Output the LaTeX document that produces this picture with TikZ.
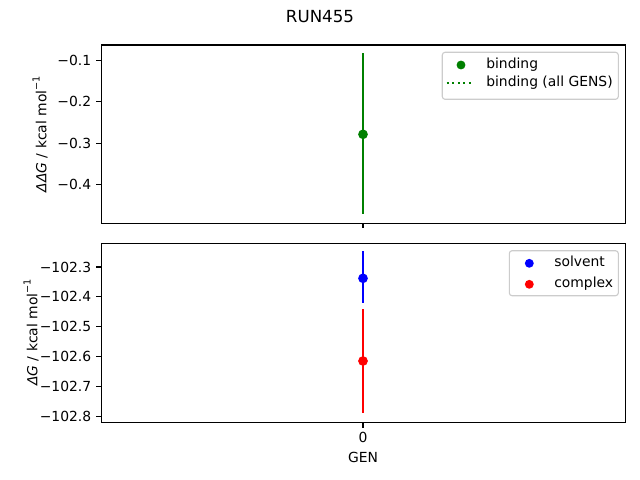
\documentclass[tikz,border=0pt]{standalone}
\usepackage{fontspec}
\setmainfont{DejaVu Sans}
\definecolor{mplgreen}{HTML}{008000}
\definecolor{mplblue}{HTML}{0000FF}
\definecolor{mplred}{HTML}{FF0000}
\definecolor{legedge}{HTML}{CCCCCC}
\newcommand{\supm}[1]{\raisebox{0.9ex}{\fontsize{7}{7}\selectfont #1}}
\tikzset{
  axbox/.style={draw=black, line width=0.8pt},
  tickmark/.style={draw=black, line width=0.8pt},
  ticklab/.style={anchor=east, inner sep=0pt, font=\fontsize{10}{12}\selectfont},
  xticklab/.style={anchor=north, inner sep=0pt, font=\fontsize{10}{12}\selectfont},
  axlabel/.style={inner sep=0pt, font=\fontsize{10}{12}\selectfont},
  errbar/.style={line width=1.5pt},
  marker/.style={circle, inner sep=0pt, minimum size=7pt},
  legmarker/.style={circle, inner sep=0pt, minimum size=6.4pt},
  legbox/.style={draw=legedge, fill=white, rounded corners=2pt, line width=0.8pt},
  legtext/.style={anchor=west, inner sep=0pt, text height=7.3pt, text depth=2.3pt, font=\fontsize{10}{12}\selectfont},
}
\begin{document}
\begin{tikzpicture}[x=0.72pt, y=-0.72pt]
\path[use as bounding box, fill=white] (0,0) rectangle (640,480);

% title
\node[axlabel, font=\fontsize{12}{14}\selectfont] (title) at (320,16.7) {RUN455};

% ---------- top panel ----------
\coordinate (tbar1) at (363,53.3);
\coordinate (tbar2) at (363,214.3);
\draw[errbar, mplgreen] (tbar1) -- (tbar2);
\node[marker, fill=mplgreen] (bind) at (363,134.3) {};

\draw[axbox] (101.3,45) rectangle (625.7,223.3);
\foreach \y/\l in {60.7/−0.1, 101.9/−0.2, 143.1/−0.3, 184.3/−0.4}{
  \draw[tickmark] (96.4,\y) -- (101.3,\y);
  \node[ticklab] at (91.5,\y) {\l};
}
\draw[tickmark] (363,223.3) -- (363,228.2);
\node[axlabel, rotate=90, anchor=base] (ylab1) at (46.5,134.2) {\textit{ΔΔG} / kcal mol\supm{−1}};

% top legend
\draw[legbox] (442.3,52.3) rectangle (618.3,99.3);
\node[legmarker, fill=mplgreen] (lgbind) at (461,65) {};
\node[legtext] (ltbind) at (486,65) {binding};
\coordinate (ld1) at (446.7,83.3);
\coordinate (ld2) at (471.7,83.3);
\draw[mplgreen, line width=1.5pt, dash pattern=on 1.5pt off 2.5pt] (ld1) -- (ld2);
\node[legtext] (ltall) at (486,83.3) {binding (all GENS)};

% ---------- bottom panel ----------
\coordinate (bbar1) at (363,251);
\coordinate (bbar2) at (363,303.3);
\draw[errbar, mplblue] (bbar1) -- (bbar2);
\node[marker, fill=mplblue] (solv) at (363,278.3) {};
\coordinate (rbar1) at (363,309.3);
\coordinate (rbar2) at (363,413.3);
\draw[errbar, mplred] (rbar1) -- (rbar2);
\node[marker, fill=mplred] (cplx) at (363,361) {};

\draw[axbox] (101.3,243.3) rectangle (625.7,422.7);
\foreach \y/\l in {267/−102.3, 296.9/−102.4, 326.8/−102.5, 356.7/−102.6, 386.6/−102.7, 416.5/−102.8}{
  \draw[tickmark] (96.4,\y) -- (101.3,\y);
  \node[ticklab] at (91.5,\y) {\l};
}
\draw[tickmark] (363,422.7) -- (363,427.6);
\node[xticklab] (xt0) at (363,432.3) {0};
\node[axlabel] (xlab) at (363,457) {GEN};
\node[axlabel, rotate=90, anchor=base] (ylab2) at (37.5,332.5) {\textit{ΔG} / kcal mol\supm{−1}};

% bottom legend
\draw[legbox] (509.3,250.7) rectangle (618.3,295.7);
\node[legmarker, fill=mplblue] (lgsolv) at (529.3,263.3) {};
\node[legtext] (ltsolv) at (554,263.3) {solvent};
\node[legmarker, fill=mplred] (lgcplx) at (529.3,284.3) {};
\node[legtext] (ltcplx) at (554,284.3) {complex};
\end{tikzpicture}
\end{document}
